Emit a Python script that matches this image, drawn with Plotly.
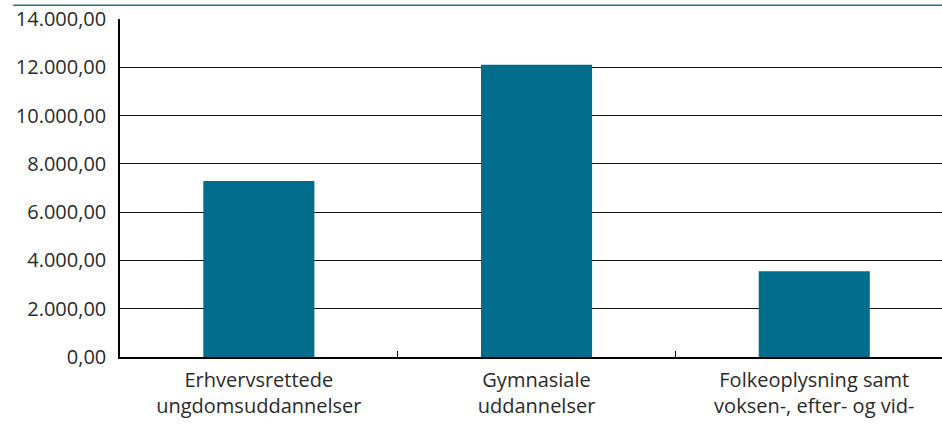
import plotly.graph_objects as go

categories = [
    "Erhvervsrettede<br>ungdomsuddannelser",
    "Gymnasiale<br>uddannelser",
    "Folkeoplysning samt<br>voksen-, efter- og vid-",
]
values = [7290, 12100, 3550]
y_ticks = [0, 2000, 4000, 6000, 8000, 10000, 12000, 14000]

fig = go.Figure(
    go.Bar(
        x=categories,
        y=values,
        marker=dict(color="#016d8d", line=dict(width=0)),
        width=0.4,
    )
)

fig.update_layout(
    width=942,
    height=430,
    margin=dict(l=120, r=0, t=19, b=73),
    paper_bgcolor="white",
    plot_bgcolor="white",
    separators=",.",
    showlegend=False,
    font=dict(family="'Open Sans', sans-serif", color="#2a2a2a"),
    shapes=[
        dict(type="line", xref="paper", yref="paper", x0=-0.13, x1=1.0,
             y0=1.041, y1=1.041, line=dict(color="#1f7390", width=1.5)),
    ],
)

fig.update_xaxes(
    type="category",
    range=[-0.5, 2.46],
    automargin=False,
    showline=True,
    linecolor="black",
    linewidth=1.5,
    ticks="inside",
    tickson="boundaries",
    ticklen=6,
    tickcolor="black",
    tickwidth=1,
    showgrid=False,
    ticklabelstandoff=4,
    tickfont=dict(size=20, color="#2a2a2a"),
)

fig.update_yaxes(
    range=[0, 14000],
    automargin=False,
    tickvals=y_ticks,
    tickformat=",.2f",
    showline=True,
    linecolor="black",
    linewidth=1.5,
    showgrid=True,
    gridcolor="#111111",
    gridwidth=1,
    zeroline=False,
    ticks="",
    ticklabelstandoff=8,
    tickfont=dict(size=20, color="#2a2a2a"),
)

fig.write_html(
    "out.html",
    config={"displayModeBar": False},
    post_script="document.body.style.margin='0';",
)
